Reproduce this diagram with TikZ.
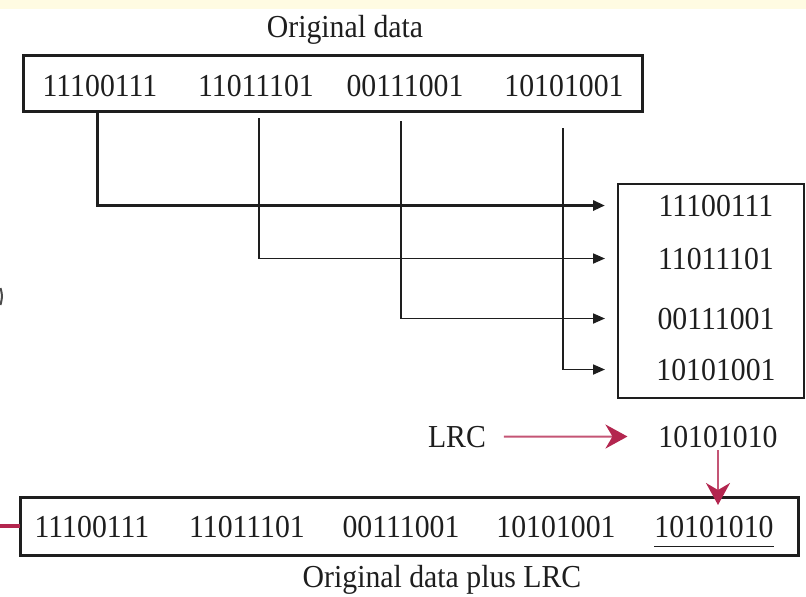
\documentclass[tikz,border=0pt]{standalone}
\usepackage{fontspec}
\setmainfont{Liberation Serif}[FakeStretch=0.93]
\usetikzlibrary{arrows.meta}
\definecolor{ink}{HTML}{1E1E1E}
\definecolor{lrcred}{HTML}{B3264F}
\definecolor{lrcline}{HTML}{C45575}
\definecolor{band}{HTML}{FFFBE2}

\begin{document}
\begin{tikzpicture}[x=1pt,y=-1pt,
  every node/.style={inner sep=0pt, outer sep=0pt, text=ink},
  word/.style={font=\fontsize{32}{36}\selectfont, anchor=base},
  frame/.style={draw=ink, line width=3pt, inner sep=0pt},
  feed/.style={draw=ink, line width=1.8pt, -{Triangle[length=12pt,width=10pt]}},
  feedmain/.style={feed, line width=3pt},
  lrcarrow/.style={draw=lrcline, line width=2pt,
    -{Stealth[length=22pt,width=24pt,inset=7pt,color=lrcred]}}
]
\useasboundingbox (0,0) rectangle (806,597);
\fill[band] (0,0) rectangle (806,9);

% partial glyph at the left edge
\draw[ink!80, line width=2pt] (0.5,288) .. controls (2.5,296) .. (0.5,305);

% original data block
\node[word] (cap1) at (345,37) {Original data};
\node[frame, minimum width=619pt, minimum height=56pt] (top) at (332.5,83) {};
\node[word] (t1) at (100,96) {11100111};
\node[word] (t2) at (256,96) {11011101};
\node[word] (t3) at (405,96) {00111001};
\node[word] (t4) at (564,96) {10101001};

% stacked bytes
\node[frame, line width=2.2pt, minimum width=186pt, minimum height=214pt] (rbox) at (711,291) {};
\node[word] (r1) at (716,216) {11100111};
\node[word] (r2) at (716,269) {11011101};
\node[word] (r3) at (716,329) {00111001};
\node[word] (r4) at (716,380) {10101001};

% feeds from the data block to the stack
\draw[feedmain] ([xshift=-3pt]top.south -| t1) |- ([xshift=-13pt]rbox.west |- r1.center);
\draw[feed] ([xshift=3pt,yshift=-7pt]top.south -| t2) |- ([xshift=-13pt]rbox.west |- r2.center);
\draw[feed] ([xshift=-4pt,yshift=-10pt]top.south -| t3) |- ([xshift=-13pt]rbox.west |- r3.center);
\draw[feed] ([xshift=-1pt,yshift=-17pt]top.south -| t4) |- ([xshift=-13pt]rbox.west |- r4.center);

% LRC row
\node[word] (lrc) at (457,447) {LRC};
\node[word] (lrcval) at (718,447) {10101010};
\draw[lrcarrow] ([xshift=18pt]lrc.east) -- ([xshift=-31pt]lrcval.west);

% transmitted block
\node[frame, minimum width=778pt, minimum height=58pt] (bot) at (409,526) {};
\node[word] (b1) at (92,537) {11100111};
\node[word] (b2) at (247,537) {11011101};
\node[word] (b3) at (401,537) {00111001};
\node[word] (b4) at (556,537) {10101001};
\node[word] (b5) at (714,537) {10101010};
\draw[ink, line width=1.5pt] ([yshift=-9pt]b5.south west) -- ([yshift=-9pt]b5.south east);
\node[word] (cap2) at (442,587) {Original data plus LRC};

\draw[lrcarrow] ([yshift=-3pt]lrcval.south) -- ([yshift=-8pt]bot.north -| lrcval);
\coordinate (inlet) at (0,526);
\draw[lrcred, line width=4pt] (inlet) -- (bot.west);
\end{tikzpicture}
\end{document}
